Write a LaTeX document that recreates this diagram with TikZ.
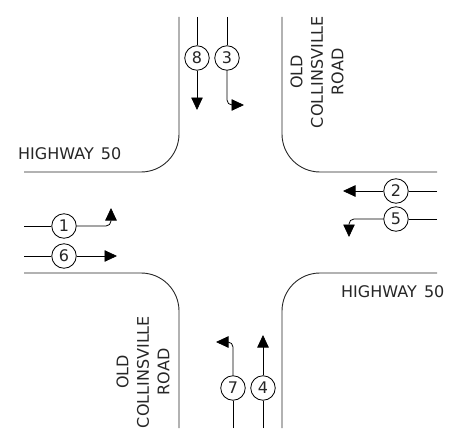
\documentclass[tikz,border=0pt]{standalone}
\usepackage{fontspec}
\setmainfont{DejaVu Sans}
\usetikzlibrary{arrows.meta}
\begin{document}
\begin{tikzpicture}[x=1pt,y=-1pt,
  curb/.style={line width=0.9pt, black!85},
  lane/.style={line width=0.8pt},
  lanearrow/.style={lane, -{Triangle[length=12.5pt,width=11.5pt]}, rounded corners=5pt},
  lanecircle/.style={circle, draw, line width=0.8pt, minimum size=24.5pt, inner sep=0pt, text=black!85, font=\fontsize{16}{16}\selectfont},
  roadlabel/.style={font=\fontsize{16}{20.5}\selectfont, text=black!85, inner sep=0pt},
  roadname/.style={roadlabel, rotate=90, align=center}]
\useasboundingbox (0,0) rectangle (458,444);
% curbs
\draw[curb] (24,172) -- (141,172) arc[start angle=90, end angle=0, radius=38] -- (179,17);
\draw[curb] (437,172) -- (320,172) arc[start angle=90, end angle=180, radius=38] -- (282,17);
\draw[curb] (24,273) -- (141,273) arc[start angle=-90, end angle=0, radius=38] -- (179,428);
\draw[curb] (437,273) -- (320,273) arc[start angle=-90, end angle=-180, radius=38] -- (282,428);
% labels
\node[roadlabel, anchor=base west] (hw1) at (18,159) {HIGHWAY\hspace{0.45em}50};
\node[roadlabel, anchor=base west] (hw2) at (341,297) {HIGHWAY\hspace{0.45em}50};
\node[roadname] (oc1) at (317,72) {OLD\\COLLINSVILLE\\ROAD};
\node[roadname] (oc2) at (143,372) {OLD\\COLLINSVILLE\\ROAD};
% lane 8
\coordinate (s8) at (197,17);
\node[lanecircle] (c8) at (197,58) {8};
\coordinate (e8) at (197,110);
\draw[lane] (s8) -- (c8);
\draw[lanearrow] (c8) -- (e8);
% lane 3
\coordinate (s3) at (227,17);
\node[lanecircle] (c3) at (227,58) {3};
\coordinate (e3) at (244,105);
\draw[lane] (s3) -- (c3);
\draw[lanearrow] (c3) |- (e3);
% lane 1
\coordinate (s1) at (24,226);
\node[lanecircle] (c1) at (64,226) {1};
\coordinate (e1) at (111,208);
\draw[lane] (s1) -- (c1);
\draw[lanearrow] (c1) -| (e1);
% lane 6
\coordinate (s6) at (24,256);
\node[lanecircle] (c6) at (64,256) {6};
\coordinate (e6) at (117,256);
\draw[lane] (s6) -- (c6);
\draw[lanearrow] (c6) -- (e6);
% lane 2
\coordinate (s2) at (437,191);
\node[lanecircle] (c2) at (396,191) {2};
\coordinate (e2) at (343,191);
\draw[lane] (s2) -- (c2);
\draw[lanearrow] (c2) -- (e2);
% lane 5
\coordinate (s5) at (437,219);
\node[lanecircle] (c5) at (396,219) {5};
\coordinate (e5) at (349,237);
\draw[lane] (s5) -- (c5);
\draw[lanearrow] (c5) -| (e5);
% lane 7
\coordinate (s7) at (233,428);
\node[lanecircle] (c7) at (233,388) {7};
\coordinate (e7) at (216,342);
\draw[lane] (s7) -- (c7);
\draw[lanearrow] (c7) |- (e7);
% lane 4
\coordinate (s4) at (263,428);
\node[lanecircle] (c4) at (263,388) {4};
\coordinate (e4) at (263,335);
\draw[lane] (s4) -- (c4);
\draw[lanearrow] (c4) -- (e4);
\end{tikzpicture}
\end{document}
